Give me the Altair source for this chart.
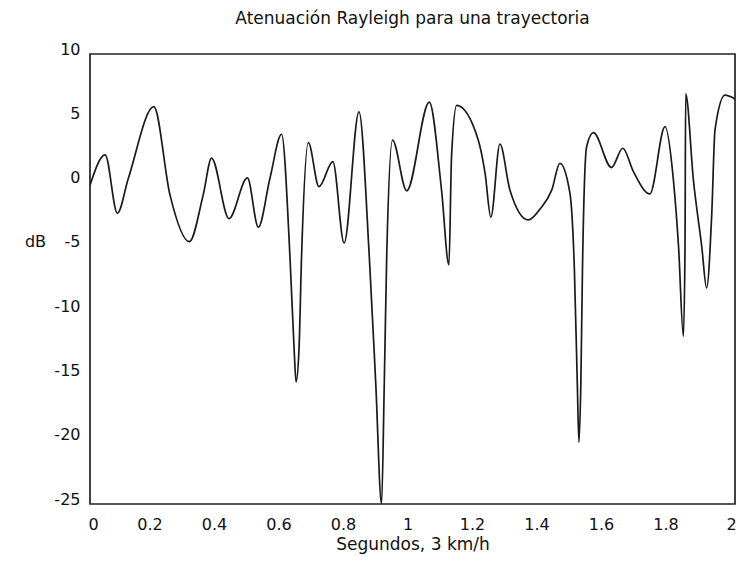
import altair as alt
import pandas as pd

# Time (s) and Rayleigh attenuation (dB)
t = [0.000, 0.047, 0.085, 0.119, 0.198, 0.248, 0.308, 0.351, 0.377, 0.431,
     0.488, 0.522, 0.558, 0.594, 0.620, 0.633, 0.639, 0.648, 0.656, 0.677,
     0.710, 0.753, 0.788, 0.834, 0.866, 0.886, 0.904, 0.9125, 0.920, 0.938,
     0.982, 1.052, 1.090, 1.113, 1.121, 1.137, 1.204, 1.225, 1.243, 1.271,
     1.302, 1.359, 1.395, 1.432, 1.457, 1.488, 1.502, 1.511, 1.516, 1.522,
     1.527, 1.540, 1.561, 1.617, 1.652, 1.685, 1.736, 1.783, 1.809, 1.825,
     1.840, 1.845, 1.847, 1.871, 1.897, 1.912, 1.928, 1.938, 1.969, 2.000]
db = [-0.2, 2.15, -2.38, 0.34, 5.9, -0.96, -4.6, -0.96, 1.9, -2.8,
      0.36, -3.47, 0.34, 3.76, -5.75, -13.0, -15.5, -13.0, -5.75, 3.1,
      -0.31, 1.63, -4.7, 5.5, -5.75, -15.6, -25.0, -15.6, -5.75, 3.3,
      -0.64, 6.25, -0.57, -6.4, 2.0, 6.0, 3.3, 0.73, -2.69, 3.0,
      -0.57, -2.9, -2.07, -0.57, 1.5, -0.8, -6.8, -15.6, -20.2, -15.6,
      -6.8, 2.8, 3.88, 1.17, 2.67, 0.85, -0.88, 4.35, 0.2, -5.0,
      -11.97, -5.0, 6.9, 0.2, -5.0, -8.2, -2.4, 4.1, 6.8, 6.5]

x_ticks = [0, 0.2, 0.4, 0.6, 0.8, 1, 1.2, 1.4, 1.6, 1.8, 2]
y_ticks = [10, 5, 0, -5, -10, -15, -20, -25]

df = pd.DataFrame({"t": t, "db": db})

FONT = "DejaVu Sans"
TXT = "#111111"

chart = alt.Chart(df).mark_line(
    interpolate="monotone", color="#1a1a1a", strokeWidth=1.7, clip=True
).encode(
    x=alt.X("t:Q",
            scale=alt.Scale(domain=[0, 2], nice=False, zero=False),
            axis=alt.Axis(values=x_ticks, format=".1~f", title="Segundos, 3 km/h",
                          grid=False, ticks=False, domain=False,
                          labelFlush=False,
                          labelOffset={"condition": [
                                           {"test": "datum.value == 0", "value": 3},
                                           {"test": "datum.value == 2", "value": -4}],
                                       "value": -5},
                          labelFont=FONT, labelFontSize=16, labelColor=TXT,
                          labelPadding=12,
                          titleFont=FONT, titleFontSize=17, titleFontWeight="normal",
                          titleColor=TXT, titleY=40, titleBaseline="middle")),
    y=alt.Y("db:Q",
            scale=alt.Scale(domain=[-25, 10], nice=False, zero=False),
            axis=alt.Axis(values=y_ticks, title="dB",
                          labelExpr="datum.value + ''",
                          grid=False, ticks=False, domain=False,
                          labelFont=FONT, labelFontSize=16, labelColor=TXT,
                          labelPadding=10, labelOffset=-5,
                          titleFont=FONT, titleFontSize=16, titleFontWeight="normal",
                          titleColor=TXT, titleAngle=0, titleX=-55, titleY=187,
                          titleAlign="center", titleBaseline="middle")),
).properties(
    width=645,
    height=450,
    background="white",
    title=alt.TitleParams("Atenuación Rayleigh para una trayectoria",
                          font=FONT, fontSize=17, fontWeight="normal",
                          color=TXT, offset=13, anchor="middle"),
    autosize=alt.AutoSizeParams(type="none"),
    padding={"left": 82, "top": 46, "right": 1, "bottom": 51},
).configure_view(
    stroke="#222222", strokeWidth=1.7
)

chart.save("out.html", embed_options={"renderer": "svg", "actions": False})
